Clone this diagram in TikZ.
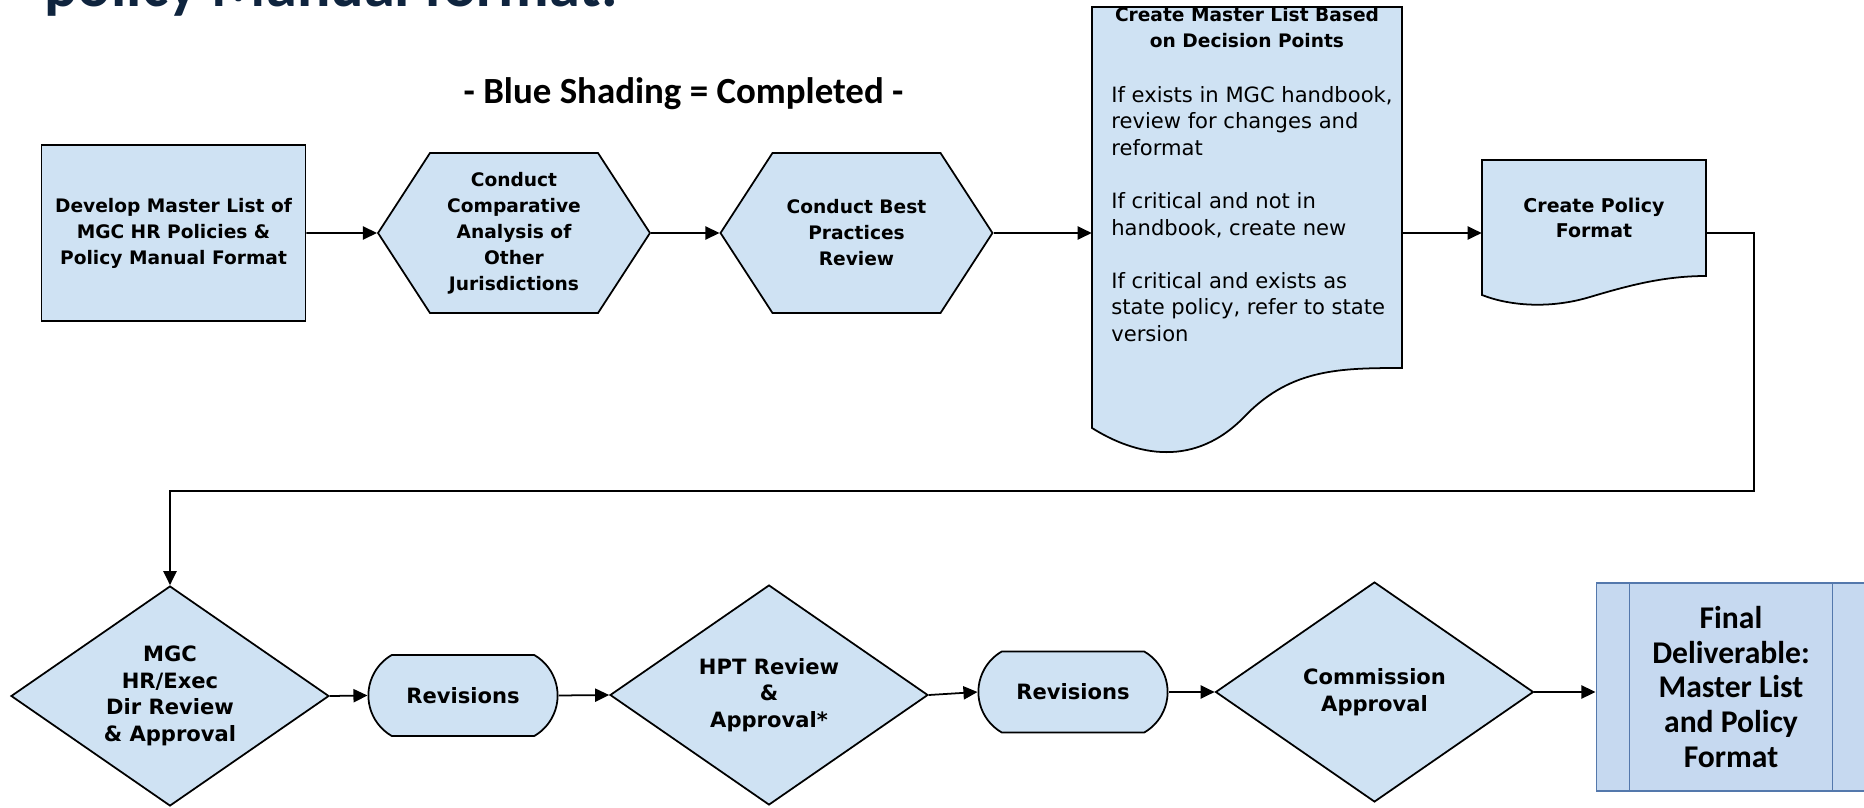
\documentclass[tikz,border=0pt]{standalone}
\usepackage{fontspec}
\setmainfont{DejaVu Sans}
\newfontfamily\calibri{Carlito}
\usetikzlibrary{shapes.geometric,shapes.symbols,shapes.misc,arrows.meta}
\definecolor{stepblue}{RGB}{207,226,243}
\definecolor{doneblue}{RGB}{198,217,240}
\definecolor{doneedge}{RGB}{84,120,172}
\definecolor{titlenavy}{HTML}{0F243E}
\tikzset{
  flow/.style={line width=1pt, -{Triangle[length=8pt,width=7.5pt]}},
  shapeline/.style={draw, line width=1pt, fill=stepblue},
  boxtext/.style={font=\bfseries\fontsize{10.6}{14.8}\selectfont, align=center},
  bigtext/.style={font=\bfseries\fontsize{12}{15.1}\selectfont, align=center},
  procbox/.style={shapeline, rectangle, minimum width=5.28cm, minimum height=3.52cm, boxtext},
  hexbox/.style={shapeline, signal, signal to=east and west, signal pointer angle=114,
    minimum width=5.44cm, minimum height=3.2cm, inner sep=0pt, boxtext},
  decision/.style={shapeline, diamond, aspect=1.445, minimum width=6.36cm, minimum height=4.4cm,
    inner sep=0pt, bigtext},
  revbox/.style={shapeline, rounded rectangle, rounded rectangle arc length=120,
    minimum width=4.02cm, minimum height=1.62cm, bigtext},
  docnode/.style={rectangle, inner sep=0pt},
}
\begin{document}
\begin{tikzpicture}[x=0.02cm,y=-0.02cm]
\useasboundingbox (0,0) rectangle (1864,808);
\clip (0,0) rectangle (1864,808);

\node[font=\calibri\bfseries\fontsize{35.5}{40}\selectfont, text=titlenavy, anchor=base west, inner sep=0pt] (heading) at (44,7) {policy Manual format.};
\node[font=\calibri\bfseries\fontsize{21}{25}\selectfont] (legend) at (683.5,93.5) {- Blue Shading = Completed -};

% document outlines with wavy bottoms
\draw[shapeline] (1092,7) -- (1092,428) .. controls (1135,455) and (1195,470) .. (1247,414)
  .. controls (1292,369) and (1340,368) .. (1402,368) -- (1402,7) -- cycle;
\draw[shapeline] (1482,160) -- (1482,295) .. controls (1510,306) and (1550,309) .. (1590,297)
  .. controls (1630,285) and (1665,276) .. (1706,276) -- (1706,160) -- cycle;

% top row
\node[procbox] (develop) at (173.5,233) {Develop Master List of\\MGC HR Policies \&\\Policy Manual Format};
\node[hexbox] (compare) at (514,233) {Conduct\\Comparative\\Analysis of\\Other\\Jurisdictions};
\node[hexbox] (bestprac) at (856.5,233) {Conduct Best\\Practices\\Review};
\node[docnode, minimum width=6.2cm, minimum height=7.22cm] (master) at (1247,187.5) {};
\node[boxtext, inner sep=0pt, anchor=north] (mastertitle) at (master.north) {Create Master List Based\\on Decision Points};
\node[font=\fontsize{12}{15.1}\selectfont, align=left, inner sep=0pt, anchor=north west] (masterbody) at (1111,86)
  {If exists in MGC handbook,\\review for changes and\\reformat\\[15.1pt]If critical and not in\\handbook, create new\\[15.1pt]If critical and exists as\\state policy, refer to state\\version};
\node[docnode, font=\bfseries\fontsize{10.8}{14.2}\selectfont, align=center, minimum width=4.48cm, minimum height=2.3cm] (policy) at (1594,217.5) {Create Policy\\Format};

% bottom row
\node[decision] (mgcrev) at (170,696) {MGC\\HR/Exec\\Dir Review\\\& Approval};
\node[revbox] (revone) at (463,695.5) {Revisions};
\node[decision] (hptrev) at (769,695) {HPT Review\\\&\\Approval*};
\node[revbox] (revtwo) at (1073,692) {Revisions};
\node[decision] (commission) at (1374.5,692) {Commission\\Approval};
\node[rectangle, draw=doneedge, line width=0.6pt, fill=doneblue, minimum width=5.4cm, minimum height=4.16cm,
  font=\calibri\bfseries\fontsize{18}{19.7}\selectfont, align=center] (final) at (1731,687)
  {Final\\Deliverable:\\Master List\\and Policy\\Format};
\draw[doneedge, line width=0.6pt] ([xshift=0.68cm]final.north west) -- ([xshift=0.68cm]final.south west);
\draw[doneedge, line width=0.6pt] ([xshift=-0.68cm]final.north east) -- ([xshift=-0.68cm]final.south east);

\coordinate (bend) at (1754,491);
\draw[flow] (develop) -- (compare);
\draw[flow] (compare) -- (bestprac);
\draw[flow] (bestprac.east) -- (bestprac.east -| master.west);
\draw[flow] (master.east |- bestprac.east) -- (policy.west |- bestprac.east);
\draw[flow] (policy.east |- bestprac.east) -| (bend) -| (mgcrev.north);
\draw[flow] (mgcrev.east) -- (revone.west);
\draw[flow] (revone.east) -- (hptrev.west);
\draw[flow] (hptrev.east) -- (revtwo.west);
\draw[flow] (revtwo.east) -- (commission.west);
\draw[flow] (commission.east) -- (commission.east -| final.west);
\end{tikzpicture}
\end{document}
